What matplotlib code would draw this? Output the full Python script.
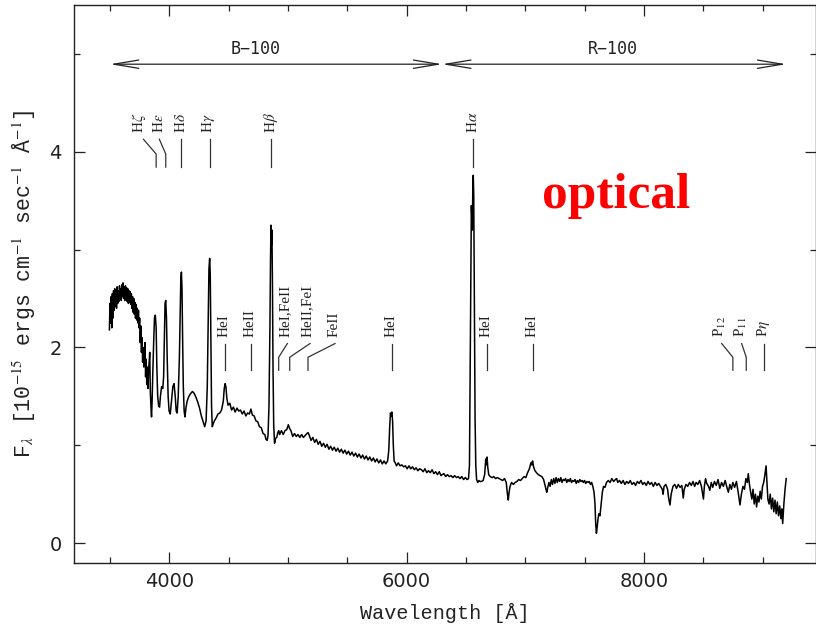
import matplotlib
matplotlib.use("Agg")
import matplotlib.pyplot as plt
from matplotlib.ticker import MultipleLocator
import numpy as np

plt.rcParams["mathtext.fontset"] = "stix"

# ---- spectrum, blue grism part (Angstrom, 1e-15 erg/cm/s/A) ----
blue_wave = [
    3495, 3500, 3505, 3510, 3515, 3520, 3525, 3530, 3535, 3540, 3545, 3550, 3555, 3560,
    3565, 3570, 3575, 3580, 3585, 3590, 3595, 3600, 3605, 3610, 3615, 3620, 3625, 3630,
    3635, 3640, 3645, 3650, 3655, 3660, 3665, 3670, 3675, 3680, 3685, 3690, 3695, 3700,
    3705, 3710, 3715, 3720, 3725, 3730, 3735, 3740, 3745, 3750, 3755, 3760, 3765, 3770,
    3775, 3780, 3785, 3790, 3795, 3800, 3805, 3810, 3815, 3820, 3825, 3830, 3835, 3840,
    3845, 3850, 3855, 3860, 3868, 3875, 3882, 3889, 3895, 3902, 3910, 3918, 3925, 3935,
    3945, 3952, 3958, 3964, 3970, 3976, 3982, 3990, 3998, 4008, 4018, 4030, 4040, 4050,
    4058, 4066, 4075, 4085, 4092, 4097, 4102, 4107, 4112, 4118, 4125, 4132, 4140, 4150,
    4165, 4180, 4195, 4210, 4225, 4240, 4255, 4270, 4285, 4298, 4310, 4320, 4328, 4334,
    4340, 4345, 4350, 4356, 4362, 4370, 4380, 4395, 4410, 4425, 4440, 4455, 4463, 4470,
    4477, 4485, 4495, 4510, 4525, 4540, 4555, 4570, 4585, 4600, 4615, 4630, 4645, 4660,
    4675, 4688, 4700, 4715, 4730, 4745, 4760, 4775, 4790, 4805, 4815, 4825, 4832, 4840,
    4848, 4853, 4857, 4861, 4865, 4869, 4874, 4880, 4887, 4895, 4905, 4915, 4922, 4930,
    4945, 4960, 4975, 4990, 5003, 5015, 5025, 5040, 5055, 5070, 5085, 5100, 5115, 5130,
    5145, 5160, 5170, 5180, 5195, 5210, 5225, 5240, 5255, 5270, 5285, 5300, 5315, 5330,
    5345, 5360, 5375, 5390, 5405, 5420, 5435, 5450, 5465, 5480, 5495, 5510, 5525, 5540,
    5555, 5570, 5585, 5600, 5615, 5630, 5645, 5660, 5675, 5690, 5705, 5720, 5735, 5750,
    5765, 5780, 5795, 5810, 5825, 5840, 5850, 5858, 5864, 5870, 5876, 5882, 5888, 5895,
    5905, 5915, 5930, 5945, 5960, 5975, 5990, 6005, 6020, 6035, 6050, 6065, 6080, 6095,
    6110, 6125, 6140, 6155, 6170, 6185, 6200, 6215, 6230, 6245, 6260, 6275, 6290, 6300,
]
blue_flux = [
    2.18, 2.45, 2.25, 2.52, 2.20, 2.55, 2.30, 2.58, 2.38, 2.60, 2.42, 2.57, 2.40, 2.62,
    2.45, 2.58, 2.47, 2.63, 2.50, 2.60, 2.48, 2.64, 2.52, 2.66, 2.50, 2.62, 2.48, 2.63,
    2.50, 2.61, 2.47, 2.60, 2.45, 2.58, 2.46, 2.57, 2.44, 2.55, 2.40, 2.52, 2.36, 2.50,
    2.34, 2.46, 2.30, 2.44, 2.28, 2.40, 2.25, 2.38, 2.20, 2.30, 2.05, 2.22, 1.95, 2.10,
    1.85, 2.00, 1.80, 1.95, 2.05, 1.70, 1.88, 1.62, 1.80, 1.58, 1.75, 1.85, 1.95, 1.55,
    1.40, 1.29, 1.45, 1.70, 2.05, 2.30, 2.33, 2.20, 1.80, 1.50, 1.40, 1.39, 1.50, 1.60,
    1.58, 1.70, 2.10, 2.45, 2.48, 2.30, 1.90, 1.50, 1.35, 1.32, 1.45, 1.60, 1.63, 1.50,
    1.35, 1.33, 1.50, 1.90, 2.40, 2.70, 2.77, 2.60, 2.10, 1.60, 1.35, 1.29, 1.38, 1.45,
    1.50, 1.53, 1.55, 1.53, 1.49, 1.44, 1.38, 1.30, 1.24, 1.19, 1.25, 1.60, 2.30, 2.80,
    2.91, 2.75, 2.10, 1.40, 1.19, 1.22, 1.25, 1.28, 1.32, 1.33, 1.36, 1.45, 1.58, 1.63,
    1.60, 1.48, 1.41, 1.43, 1.36, 1.39, 1.34, 1.38, 1.35, 1.36, 1.32, 1.35, 1.30, 1.33,
    1.32, 1.37, 1.31, 1.30, 1.25, 1.24, 1.19, 1.18, 1.12, 1.11, 1.06, 1.05, 1.10, 1.40,
    2.20, 2.90, 3.25, 3.05, 3.20, 2.70, 1.80, 1.20, 1.02, 1.07, 1.08, 1.13, 1.15, 1.11,
    1.15, 1.11, 1.15, 1.16, 1.21, 1.17, 1.15, 1.09, 1.12, 1.09, 1.11, 1.08, 1.11, 1.08,
    1.10, 1.12, 1.13, 1.10, 1.05, 1.08, 1.03, 1.06, 1.01, 1.04, 0.99, 1.02, 0.98, 1.01,
    0.96, 0.99, 0.95, 0.98, 0.94, 0.97, 0.93, 0.96, 0.92, 0.95, 0.91, 0.94, 0.90, 0.93,
    0.89, 0.92, 0.88, 0.91, 0.87, 0.90, 0.86, 0.89, 0.85, 0.88, 0.84, 0.87, 0.83, 0.86,
    0.82, 0.85, 0.81, 0.84, 0.81, 0.84, 0.95, 1.20, 1.33, 1.30, 1.34, 1.25, 1.00, 0.84,
    0.82, 0.79, 0.82, 0.79, 0.80, 0.78, 0.79, 0.76, 0.79, 0.76, 0.78, 0.75, 0.77, 0.74,
    0.76, 0.75, 0.73, 0.76, 0.72, 0.74, 0.72, 0.75, 0.71, 0.73, 0.70, 0.73, 0.69, 0.70,
]

# ---- spectrum, red grism part ----
red_wave = [
    6315, 6330, 6345, 6360, 6375, 6390, 6405, 6420, 6435, 6450, 6465, 6480, 6495, 6510,
    6522, 6530, 6537, 6542, 6546, 6550, 6554, 6558, 6562, 6566, 6571, 6577, 6583, 6590,
    6600, 6610, 6620, 6630, 6645, 6658, 6667, 6672, 6678, 6684, 6692, 6705, 6720, 6735,
    6750, 6765, 6780, 6795, 6810, 6825, 6840, 6850, 6857, 6864, 6872, 6885, 6900, 6915,
    6930, 6945, 6960, 6975, 6990, 7005, 7020, 7035, 7048, 7055, 7062, 7070, 7082, 7095,
    7110, 7125, 7140, 7155, 7165, 7175, 7182, 7190, 7200, 7210, 7220, 7230, 7240, 7250,
    7260, 7270, 7280, 7290, 7300, 7310, 7320, 7330, 7340, 7350, 7360, 7370, 7380, 7390,
    7400, 7410, 7420, 7430, 7440, 7450, 7460, 7470, 7480, 7490, 7500, 7510, 7520, 7530,
    7540, 7550, 7560, 7570, 7580, 7588, 7594, 7600, 7606, 7613, 7620, 7630, 7640, 7650,
    7660, 7672, 7685, 7700, 7715, 7730, 7745, 7760, 7770, 7780, 7795, 7810, 7825, 7840,
    7855, 7870, 7885, 7900, 7915, 7930, 7945, 7960, 7975, 7990, 8005, 8020, 8035, 8050,
    8065, 8080, 8095, 8110, 8125, 8140, 8155, 8162, 8170, 8185, 8200, 8210, 8220, 8230,
    8245, 8260, 8275, 8290, 8305, 8320, 8332, 8340, 8355, 8370, 8385, 8400, 8414, 8428,
    8440, 8455, 8470, 8485, 8495, 8502, 8510, 8520, 8530, 8545, 8556, 8568, 8580, 8595,
    8610, 8625, 8640, 8655, 8670, 8685, 8700, 8712, 8725, 8738, 8750, 8765, 8780, 8795,
    8810, 8822, 8835, 8848, 8860, 8872, 8880, 8890, 8900, 8910, 8920, 8930, 8940, 8950,
    8960, 8970, 8980, 8990, 9000, 9010, 9020, 9030, 9038, 9045, 9055, 9065, 9075, 9085,
    9095, 9105, 9115, 9125, 9135, 9145, 9155, 9163, 9170, 9180, 9190, 9200,
]
red_flux = [
    0.71, 0.68, 0.70, 0.68, 0.69, 0.67, 0.69, 0.67, 0.68, 0.66, 0.68, 0.65, 0.67, 0.65,
    0.66, 0.80, 2.00, 3.00, 3.45, 3.30, 3.20, 3.60, 3.76, 3.55, 2.50, 1.30, 0.80, 0.65,
    0.62, 0.64, 0.63, 0.63, 0.64, 0.70, 0.86, 0.80, 0.88, 0.78, 0.70, 0.68, 0.67, 0.68,
    0.66, 0.67, 0.66, 0.65, 0.64, 0.66, 0.62, 0.50, 0.44, 0.52, 0.58, 0.62, 0.60, 0.62,
    0.63, 0.65, 0.64, 0.66, 0.68, 0.67, 0.72, 0.76, 0.82, 0.80, 0.84, 0.78, 0.74, 0.72,
    0.70, 0.69, 0.68, 0.65, 0.60, 0.55, 0.52, 0.57, 0.62, 0.58, 0.65, 0.60, 0.66, 0.61,
    0.67, 0.62, 0.66, 0.63, 0.67, 0.62, 0.65, 0.64, 0.66, 0.62, 0.65, 0.63, 0.66, 0.62,
    0.64, 0.63, 0.65, 0.61, 0.64, 0.62, 0.65, 0.63, 0.64, 0.62, 0.64, 0.61, 0.63, 0.62,
    0.63, 0.60, 0.62, 0.58, 0.52, 0.40, 0.20, 0.10, 0.16, 0.24, 0.30, 0.28, 0.40, 0.52,
    0.58, 0.57, 0.62, 0.64, 0.62, 0.66, 0.63, 0.65, 0.66, 0.62, 0.64, 0.61, 0.64, 0.60,
    0.63, 0.61, 0.64, 0.60, 0.62, 0.59, 0.63, 0.61, 0.64, 0.60, 0.62, 0.59, 0.63, 0.60,
    0.62, 0.58, 0.62, 0.59, 0.61, 0.58, 0.55, 0.50, 0.58, 0.60, 0.55, 0.45, 0.39, 0.50,
    0.58, 0.60, 0.56, 0.60, 0.57, 0.59, 0.46, 0.55, 0.60, 0.58, 0.62, 0.59, 0.63, 0.58,
    0.62, 0.60, 0.64, 0.58, 0.50, 0.45, 0.58, 0.66, 0.61, 0.58, 0.54, 0.62, 0.57, 0.63,
    0.59, 0.65, 0.56, 0.62, 0.58, 0.64, 0.57, 0.52, 0.60, 0.55, 0.62, 0.57, 0.63, 0.52,
    0.39, 0.50, 0.58, 0.55, 0.66, 0.62, 0.71, 0.60, 0.52, 0.45, 0.55, 0.40, 0.50, 0.37,
    0.48, 0.42, 0.53, 0.45, 0.58, 0.62, 0.70, 0.79, 0.60, 0.45, 0.40, 0.50, 0.35, 0.46,
    0.32, 0.44, 0.30, 0.42, 0.28, 0.38, 0.25, 0.35, 0.20, 0.40, 0.55, 0.66,
]

# ---- line identifications ----
upper_names = ["H$\\zeta$", "H$\\epsilon$", "H$\\delta$", "H$\\gamma$", "H$\\beta$", "H$\\alpha$"]
upper_rest = [3889, 3970, 4102, 4340, 4861, 6563]
upper_top = [3782, 3916, 4102, 4340, 4861, 6563]
upper_text = [3742, 3912, 4095, 4333, 4854, 6556]

lower_names = ["HeI", "HeII", "HeI,FeII", "HeII,FeI", "FeII", "HeI", "HeI", "HeI",
               "P$_{12}$", "P$_{11}$", "P$\\eta$"]
lower_rest = [4471, 4686, 4922, 5015, 5169, 5876, 6678, 7065, 8750, 8863, 9015]
lower_top = [4471, 4686, 4995, 5186, 5397, 5876, 6678, 7065, 8656, 8824, 9015]
lower_text = [4464, 4679, 4975, 5166, 5390, 5869, 6671, 7058, 8645, 8815, 9008]

# grism coverage
grism_names = ["B\u2212100", "R\u2212100"]
grism_start = [3500, 6300]
grism_end = [6300, 9200]
grism_label_x = [4730, 7736]

fig = plt.figure(figsize=(8.16, 6.27), dpi=100)
ax = fig.add_axes([74.4 / 816, 64.3 / 627, 741.5 / 816, 557.7 / 627])

wave = np.concatenate([blue_wave, red_wave])
flux = np.concatenate([blue_flux, red_flux])
ax.plot(wave, flux, color="black", lw=1.1)

ax.set_xlim(3200, 9450)
ax.set_ylim(-0.2, 5.5)
ax.set_xticks([4000, 6000, 8000])
ax.set_yticks([0, 2, 4])
ax.xaxis.set_minor_locator(MultipleLocator(500))
ax.yaxis.set_minor_locator(MultipleLocator(1))
ax.tick_params(which="both", direction="in", top=True, right=True,
               color="#222222", width=0.9)
ax.tick_params(which="major", length=8)
ax.tick_params(which="minor", length=4.5)
ax.tick_params(axis="x", labelsize=14, pad=7, labelcolor="#222222")
ax.tick_params(axis="y", labelsize=14, pad=9, labelcolor="#222222")
for sp in ax.spines.values():
    sp.set_color("#222222")
    sp.set_linewidth(1.0)

mono = ["Liberation Mono", "DejaVu Sans Mono"]
ax.set_xlabel("Wavelength [Å]", family=mono, fontsize=14.5, color="#222222", labelpad=8)
ax.set_ylabel("F$_\\lambda$ [10$^{-15}$ ergs cm$^{-1}$ sec$^{-1}$ Å$^{-1}$]",
              family=mono, fontsize=15.5, color="#222222", labelpad=9)

serif = ["Liberation Serif", "DejaVu Serif"]
conn = dict(color="#333333", lw=0.9)


def mark_lines(names, rest, top, text_x, y_text, y_top, y_kink, y_bot):
    for name, r, t, tx in zip(names, rest, top, text_x):
        ax.plot([t, r, r], [y_top, y_kink, y_bot], **conn)
        ax.text(tx, y_text, name, rotation=90, ha="center", va="bottom",
                family=serif, fontsize=11, color="#222222")


mark_lines(upper_names, upper_rest, upper_top, upper_text, 4.19, 4.128, 3.977, 3.843)
mark_lines(lower_names, lower_rest, lower_top, lower_text, 2.105, 2.04, 1.90, 1.767)

# grism wavelength ranges
for name, a, b, lx in zip(grism_names, grism_start, grism_end, grism_label_x):
    ax.annotate("", xy=(a, 4.895), xytext=(b, 4.895),
                arrowprops=dict(arrowstyle="<->,head_length=1.8,head_width=0.3",
                                lw=0.9, color="#222222", shrinkA=0, shrinkB=0,
                                mutation_scale=10))
    ax.text(lx, 4.96, name, ha="center", va="bottom", family=["DejaVu Sans Mono"],
            fontsize=12, color="#222222")

ax.text(7141, 3.43, "optical", color="#ff0000", fontsize=37, fontweight="bold",
        family=serif, ha="left", va="baseline")

fig.savefig("out.png", dpi=100)
